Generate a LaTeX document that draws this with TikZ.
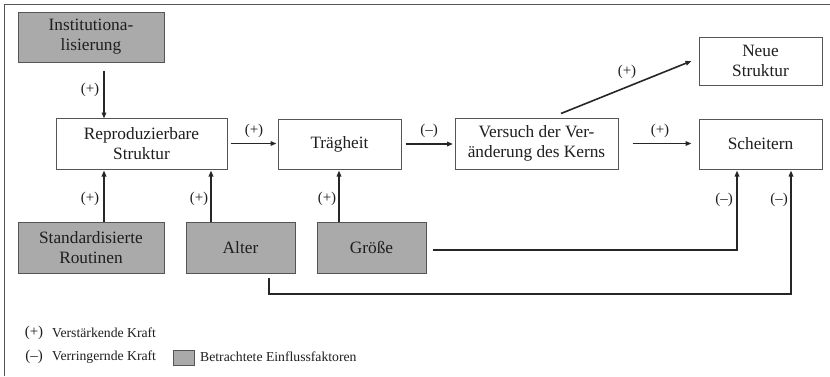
\documentclass[tikz,border=0pt]{standalone}
\usepackage{fontspec}
\setmainfont{Liberation Serif}
\usetikzlibrary{arrows.meta,calc}
\definecolor{boxgray}{RGB}{170,170,170}
\definecolor{edge}{RGB}{85,85,85}
\definecolor{txt}{RGB}{30,30,30}
\begin{document}
\begin{tikzpicture}[x=1pt,y=1pt,
  box/.style={draw=edge,line width=1pt,fill=white,inner sep=0pt,align=center,text=txt,
     font=\fontsize{17.3}{20}\selectfont},
  gbox/.style={box,fill=boxgray},
  arr/.style={line width=1.6pt,draw=black!85,-{Triangle[length=6pt,width=4.5pt]}},
  lab/.style={inner sep=0pt,text=txt,font=\fontsize{15}{16}\selectfont},
  leg/.style={inner sep=0pt,anchor=west,text=txt,font=\fontsize{13.7}{15}\selectfont}]
\useasboundingbox (0,0) rectangle (830,-376);
\draw[edge,line width=1pt] (830,-4) -- (4,-4) -- (4,-376);
% boxes
\node[gbox,minimum width=146pt,minimum height=50pt] (inst) at (91,-37) {Institutiona-\\lisierung};
\node[box,minimum width=171pt,minimum height=51pt] (repro) at (141.5,-143.5) {Reproduzierbare\\Struktur};
\node[box,minimum width=123pt,minimum height=50pt] (traeg) at (339.5,-144) {Trägheit};
\node[box,minimum width=163pt,minimum height=51pt] (vers) at (536.5,-143.5) {Versuch der Ver-\\änderung des Kerns};
\node[box,minimum width=123pt,minimum height=48pt] (neue) at (760.5,-61) {Neue\\Struktur};
\node[box,minimum width=123pt,minimum height=50pt] (scheit) at (760.5,-144) {Scheitern};
\node[gbox,minimum width=146pt,minimum height=51pt] (std) at (91,-247.5) {Standardisierte\\Routinen};
\node[gbox,minimum width=109pt,minimum height=51pt] (alter) at (240.5,-247.5) {Alter};
\node[gbox,minimum width=109pt,minimum height=51pt] (groe) at (371.5,-247.5) {Größe};
% connectors
\draw[arr] ([xshift=13pt,yshift=-8pt]inst.south) -- ([xshift=13pt,yshift=-1pt]inst.south |- repro.north);
\node[lab] (l1) at (90,-90) {(+)};
\draw[arr] ([xshift=13pt]std.north) -- ([xshift=13pt,yshift=-1pt]std.north |- repro.south);
\node[lab] (l2) at (90,-199) {(+)};
\draw[arr] ([xshift=-29.5pt]alter.north) -- ([xshift=-29.5pt,yshift=-1pt]alter.north |- repro.south);
\node[lab] (l3) at (199,-199) {(+)};
\draw[arr] ([xshift=-32.5pt]groe.north) -- ([xshift=-32.5pt,yshift=-1pt]groe.north |- traeg.south);
\node[lab] (l4) at (327,-199) {(+)};
\draw[arr] ([xshift=3pt]repro.east) -- ([xshift=-1pt]repro.east -| traeg.west);
\node[lab] (l5) at (254,-131) {(+)};
\draw[arr] ([xshift=4pt]traeg.east) -- ([xshift=-1.5pt]traeg.east -| vers.west);
\node[lab] (l6) at (429,-131) {(–)};
\draw[arr] ([xshift=14pt]vers.east) -- ([xshift=-7pt]vers.east -| scheit.west);
\node[lab] (l7) at (660,-131) {(+)};
\draw[arr] ([xshift=24.5pt,yshift=4pt]vers.north) -- ([xshift=-7pt]neue.west);
\node[lab] (l8) at (627,-72) {(+)};
\draw[arr] ([xshift=6pt,yshift=-2.5pt]groe.east) -| ([xshift=-23.5pt,yshift=-1pt]scheit.south);
\node[lab] (l9) at (724,-200) {(–)};
\draw[arr] ([xshift=28.5pt,yshift=-4pt]alter.south) |- (791,-294) -- ([xshift=30.5pt,yshift=-1pt]scheit.south);
\node[lab] (l10) at (779,-200) {(–)};
% legend
\node[lab,font=\fontsize{15}{16}\selectfont] (lp) at (34,-333) {(+)};
\node[leg] (lpt) at (52,-333) {Verstärkende Kraft};
\node[lab,font=\fontsize{15}{16}\selectfont] (lm) at (34,-357) {(–)};
\node[leg] (lmt) at (52,-357) {Verringernde Kraft};
\node[draw=edge,line width=1pt,fill=boxgray,minimum width=21pt,minimum height=15pt,inner sep=0pt] (lg) at (183.5,-357.5) {};
\node[leg] (lgt) at (200,-357) {Betrachtete Einflussfaktoren};
\end{tikzpicture}
\end{document}
